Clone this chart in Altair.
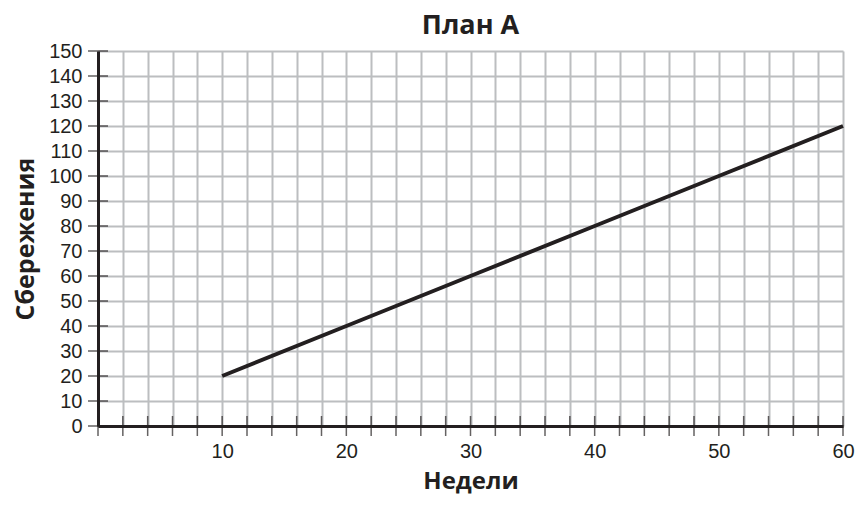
import altair as alt
import pandas as pd

weeks = [10, 20, 30, 40, 50, 60]
savings = [20, 40, 60, 80, 100, 120]
x_ticks = list(range(0, 62, 2))
y_ticks = list(range(0, 160, 10))

line_df = pd.DataFrame({"Недели": weeks, "Сбережения": savings})
xt_df = pd.DataFrame({"Недели": x_ticks, "Сбережения": [0] * len(x_ticks)})
yt_df = pd.DataFrame({"Недели": [0] * len(y_ticks), "Сбережения": y_ticks})

xscale = alt.Scale(domain=[0, 60], nice=False, zero=False)
yscale = alt.Scale(domain=[0, 150], nice=False, zero=False)

label_font = "Liberation Sans"
bold_font = "Open Sans"

xaxis = alt.Axis(
    values=x_ticks,
    labelExpr="datum.value % 10 == 0 && datum.value > 0 ? datum.label : ''",
    ticks=False, labelPadding=15, labelFontSize=20, labelFont=label_font,
    labelColor="#231f20", grid=True, gridColor="#bcbec0", gridWidth=2,
    domainColor="#231f20", domainWidth=3, title="Недели",
    titleFont=bold_font, titleFontSize=24, titleFontWeight="bold",
    titleColor="#231f20", titlePadding=8, labelFlush=False,
    labelOverlap=False, labelBound=False,
)
yaxis = alt.Axis(
    values=y_ticks, ticks=False, labelPadding=16, labelFontSize=20,
    labelFont=label_font, labelColor="#231f20", grid=True,
    gridColor="#bcbec0", gridWidth=2, domainColor="#231f20", domainWidth=3,
    title="Сбережения", titleFont=bold_font, titleFontSize=25,
    titleFontWeight="bold", titleColor="#231f20", titlePadding=10,
    labelFlush=False, labelOverlap=False, labelBound=False,
)

X = alt.X("Недели:Q", scale=xscale, axis=xaxis)
Y = alt.Y("Сбережения:Q", scale=yscale, axis=yaxis)

line = alt.Chart(line_df).mark_line(color="#231f20", strokeWidth=4).encode(
    x=X, y=Y)

xt = alt.Chart(xt_df).mark_tick(
    orient="vertical", size=20, thickness=1.5, color="#231f20"
).encode(x=X, y=Y)

yt = alt.Chart(yt_df).mark_tick(
    orient="horizontal", size=20, thickness=1.5, color="#231f20"
).encode(x=X, y=Y)

chart = alt.layer(line, xt, yt).properties(
    width=745, height=375, background="white",
    autosize=alt.AutoSizeParams(type="none"),
    padding={"left": 90, "top": 43, "right": 16, "bottom": 68},
    title=alt.TitleParams("План А", font=bold_font, fontSize=27,
                          fontWeight="bold", color="#231f20", offset=1),
).configure_view(stroke=None)

chart.save("out.html", embed_options={"renderer": "svg", "actions": False})
